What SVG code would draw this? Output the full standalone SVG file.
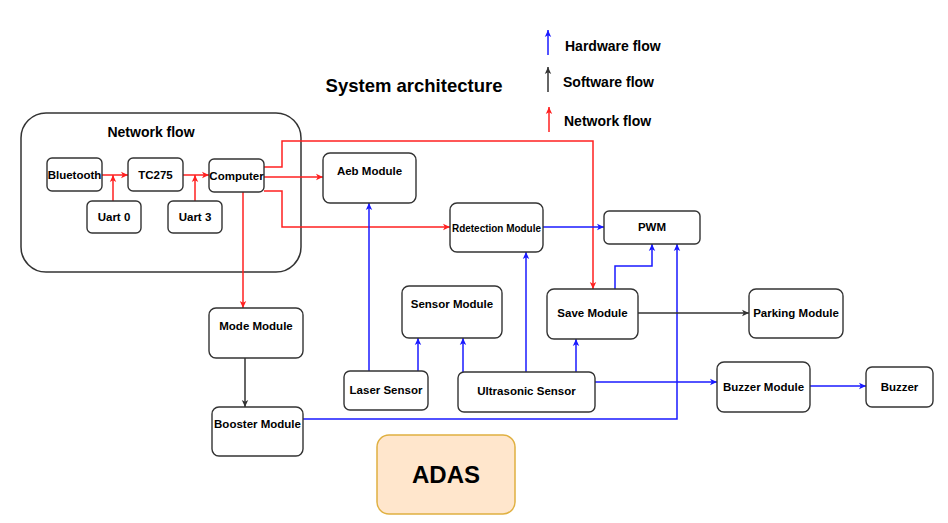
<svg xmlns="http://www.w3.org/2000/svg" width="948" height="523" viewBox="0 0 948 523">
<style>
  .node { fill: #ffffff; stroke: #333333; stroke-width: 1.4; }
  .lbl { font-family: "Liberation Sans", Arial, sans-serif; font-weight: bold; font-size: 11.5px; fill: #000; text-anchor: middle; }
  .big { font-family: "Liberation Sans", Arial, sans-serif; font-weight: bold; fill: #000; }
  .red { fill: none; stroke: #ff2020; stroke-width: 1.5; marker-end: url(#ar); }
  .blue { fill: none; stroke: #1a1aff; stroke-width: 1.5; marker-end: url(#ab); }
  .black { fill: none; stroke: #333333; stroke-width: 1.5; marker-end: url(#ak); }
</style>
<defs>
  <marker id="ar" markerUnits="userSpaceOnUse" markerWidth="8" markerHeight="8" refX="7" refY="4" orient="auto"><path d="M0,0.8 L7,4 L0,7.2 L1.8,4 z" fill="#ff2020"/></marker>
  <marker id="ab" markerUnits="userSpaceOnUse" markerWidth="8" markerHeight="8" refX="7" refY="4" orient="auto"><path d="M0,0.8 L7,4 L0,7.2 L1.8,4 z" fill="#1a1aff"/></marker>
  <marker id="ak" markerUnits="userSpaceOnUse" markerWidth="8" markerHeight="8" refX="7" refY="4" orient="auto"><path d="M0,0.8 L7,4 L0,7.2 L1.8,4 z" fill="#333333"/></marker>
</defs>
<rect width="948" height="523" fill="#ffffff"/>

<g id="title"><text class="big" x="414" y="92" font-size="18.5" text-anchor="middle">System architecture</text></g>

<g id="legend">
  <path class="blue" d="M548,55 V30"/>
  <text class="big" x="565" y="51" font-size="14">Hardware flow</text>
  <path class="black" d="M548,92 V67"/>
  <text class="big" x="563" y="87" font-size="14">Software flow</text>
  <path class="red" d="M549,132 V107"/>
  <text class="big" x="564" y="126" font-size="14">Network flow</text>
</g>

<g id="network-flow">
  <rect x="21" y="113" width="280" height="159" rx="25" fill="#ffffff" stroke="#333333" stroke-width="1.5"/>
  <text class="big" x="151" y="137" font-size="14" text-anchor="middle">Network flow</text>
</g>

<g id="connectors">
  <path class="red" d="M102,175 H128"/>
  <path class="red" d="M113,201 V175"/>
  <path class="red" d="M183,175 H209"/>
  <path class="red" d="M195,201 V175"/>
  <path class="red" d="M264,167 H282 V141 H593 V289"/>
  <path class="red" d="M264,177 H323"/>
  <path class="red" d="M264,191 H282 V227 H450"/>
  <path class="red" d="M243,192 V308"/>

  <path class="blue" d="M543,227 H604"/>
  <path class="blue" d="M369,371 V203"/>
  <path class="blue" d="M418,371 V338"/>
  <path class="blue" d="M463,372 V338"/>
  <path class="blue" d="M526,372 V252"/>
  <path class="blue" d="M576,372 V339"/>
  <path class="blue" d="M595,382 H717"/>
  <path class="blue" d="M615,289 V266 H652 V244"/>
  <path class="blue" d="M303,419 H677 V244"/>
  <path class="blue" d="M810,386 H866"/>

  <path class="black" d="M245,358 V407"/>
  <path class="black" d="M638,313 H749"/>
</g>

<g id="bluetooth"><rect class="node" x="47" y="158" width="55" height="33" rx="5"/><text class="lbl" x="74.5" y="179">Bluetooth</text></g>
<g id="tc275"><rect class="node" x="128" y="158" width="55" height="33" rx="5"/><text class="lbl" x="155.5" y="179">TC275</text></g>
<g id="computer"><rect class="node" x="209" y="159" width="55" height="33" rx="5"/><text class="lbl" x="236.5" y="180">Computer</text></g>
<g id="uart0"><rect class="node" x="87" y="201" width="54" height="32" rx="5"/><text class="lbl" x="114" y="221">Uart 0</text></g>
<g id="uart3"><rect class="node" x="168" y="201" width="54" height="32" rx="5"/><text class="lbl" x="195" y="221">Uart 3</text></g>

<g id="aeb"><rect class="node" x="323" y="153" width="93" height="50" rx="7"/><text class="lbl" x="369.5" y="175">Aeb Module</text></g>
<g id="rdetection"><rect class="node" x="450" y="203" width="93" height="49" rx="7"/><text class="lbl" x="496.5" y="232" textLength="89" lengthAdjust="spacingAndGlyphs">Rdetection Module</text></g>
<g id="pwm"><rect class="node" x="604" y="211" width="96" height="33" rx="5"/><text class="lbl" x="652" y="231">PWM</text></g>
<g id="sensor-module"><rect class="node" x="402" y="286" width="100" height="52" rx="7"/><text class="lbl" x="452" y="308">Sensor Module</text></g>
<g id="save-module"><rect class="node" x="547" y="289" width="91" height="50" rx="7"/><text class="lbl" x="592.5" y="317">Save Module</text></g>
<g id="parking-module"><rect class="node" x="749" y="289" width="94" height="49" rx="7"/><text class="lbl" x="796" y="317">Parking Module</text></g>
<g id="laser-sensor"><rect class="node" x="344" y="371" width="84" height="39" rx="6"/><text class="lbl" x="386" y="394">Laser Sensor</text></g>
<g id="ultrasonic-sensor"><rect class="node" x="458" y="372" width="137" height="40" rx="6"/><text class="lbl" x="526.5" y="395">Ultrasonic Sensor</text></g>
<g id="mode-module"><rect class="node" x="209" y="308" width="94" height="50" rx="7"/><text class="lbl" x="256" y="330">Mode Module</text></g>
<g id="booster-module"><rect class="node" x="212" y="407" width="91" height="49" rx="7"/><text class="lbl" x="257.5" y="428">Booster Module</text></g>
<g id="buzzer-module"><rect class="node" x="717" y="362" width="93" height="50" rx="7"/><text class="lbl" x="763.5" y="391">Buzzer Module</text></g>
<g id="buzzer"><rect class="node" x="866" y="367" width="67" height="40" rx="6"/><text class="lbl" x="899.5" y="391">Buzzer</text></g>

<g id="adas"><rect x="377" y="435" width="138" height="79" rx="12" fill="#ffe6cc" stroke="#e0b040" stroke-width="1.5"/><text class="big" x="446" y="483" font-size="24" text-anchor="middle">ADAS</text></g>
</svg>
